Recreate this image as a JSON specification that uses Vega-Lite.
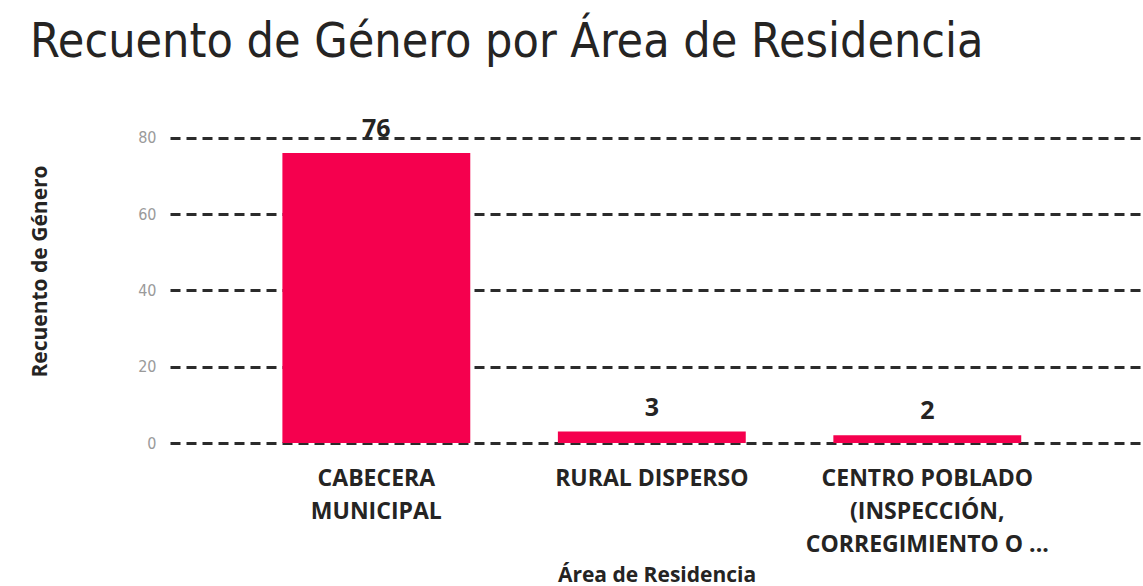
{
  "$schema": "https://vega.github.io/schema/vega-lite/v6.json",
  "autosize": {"type": "none"},
  "width": 973,
  "height": 351,
  "padding": {"left": 170, "top": 92, "right": 0, "bottom": 143},
  "background": "white",
  "title": {
    "text": "Recuento de Género por Área de Residencia",
    "anchor": "start",
    "frame": "group",
    "dx": -140,
    "offset": -13,
    "baseline": "alphabetic",
    "font": "DejaVu Sans Condensed, Roboto",
    "fontSize": 48,
    "fontWeight": "normal",
    "color": "#252423"
  },
  "data": {
    "values": [
      {"area": "CABECERA|MUNICIPAL", "count": 76},
      {"area": "RURAL DISPERSO", "count": 3},
      {"area": "CENTRO POBLADO|(INSPECCIÓN,|CORREGIMIENTO O ...", "count": 2}
    ]
  },
  "config": {"view": {"stroke": null}},
  "encoding": {
    "x": {
      "field": "area",
      "type": "nominal",
      "sort": null,
      "scale": {"paddingInner": 0.318, "paddingOuter": 0.425, "align": 0.48},
      "axis": {
        "title": "Área de Residencia",
        "titleFont": "Open Sans",
        "titleFontSize": 21,
        "titleFontWeight": "bold",
        "titleColor": "#252423",
        "titleY": 132,
        "titleBaseline": "middle",
        "labelAngle": 0,
        "labelFont": "Open Sans",
        "labelFontSize": 23,
        "labelFontWeight": "bold",
        "labelColor": "#252423",
        "labelLineHeight": 33,
        "labelPadding": 24,
        "labelLimit": 400,
        "labelExpr": "split(datum.value, '|')",
        "ticks": false,
        "domain": false,
        "grid": false
      }
    },
    "y": {
      "field": "count",
      "type": "quantitative",
      "scale": {"domain": [0, 92], "nice": false},
      "axis": {
        "title": "Recuento de Género",
        "titleFont": "Open Sans",
        "titleFontSize": 21,
        "titleFontWeight": "bold",
        "titleColor": "#252423",
        "titleX": -130,
        "titleY": 179,
        "titleBaseline": "middle",
        "values": [0, 20, 40, 60, 80],
        "labelFont": "DejaVu Sans Condensed, Roboto",
        "labelFontSize": 16,
        "labelColor": "#9a9a9a",
        "labelPadding": 14,
        "ticks": false,
        "domain": false,
        "grid": true,
        "gridColor": "#2b2b2b",
        "gridWidth": 3,
        "gridDash": [10, 6]
      }
    }
  },
  "layer": [
    {"mark": {"type": "bar", "color": "#F5004E"}},
    {
      "mark": {"type": "text", "dy": -11, "baseline": "bottom", "font": "Open Sans", "fontSize": 25, "fontWeight": "bold", "color": "#252423"},
      "encoding": {"text": {"field": "count", "type": "quantitative"}}
    }
  ]
}
